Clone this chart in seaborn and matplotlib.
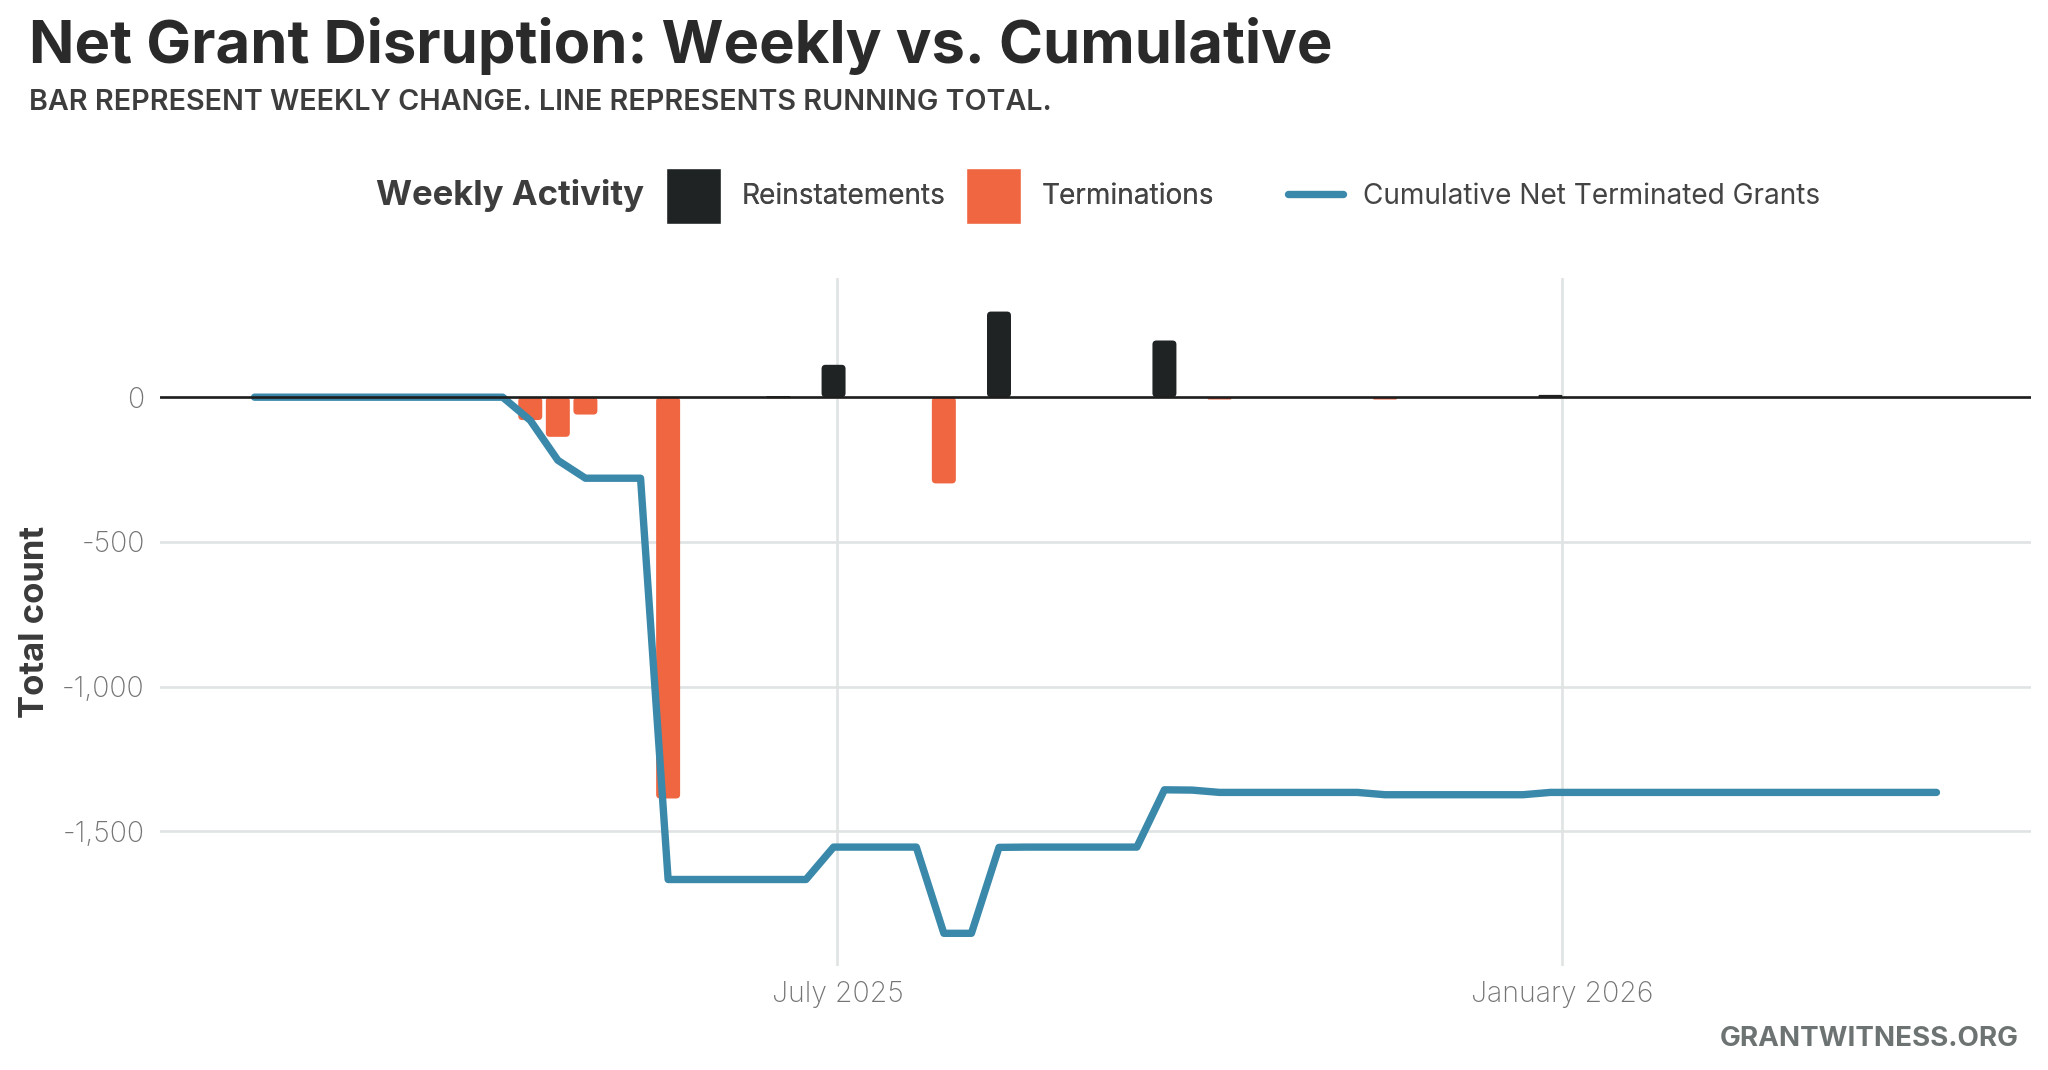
import pandas as pd
import seaborn as sns
import matplotlib.pyplot as plt
import matplotlib.dates as mdates
from matplotlib.patches import Patch, FancyBboxPatch
from matplotlib.lines import Line2D
from matplotlib.ticker import FuncFormatter

# weekly data (weeks starting Mon 2025-02-03 .. 2026-04-06)
week_start = pd.date_range('2025-02-03', '2026-04-06', freq='7D')

reinstatements = [0, 0, 0, 0, 0, 0, 0, 0, 0, 0,
                  0, 0, 0, 0, 0, 0, 0, 0, 0, 4,
                  0, 112, 0, 0, 0, 0, 0, 296, 0, 0,
                  0, 0, 0, 196, 0, 0, 0, 0, 0, 0,
                  0, 0, 0, 0, 0, 0, 0, 8, 0, 0,
                  0, 0, 0, 0, 0, 0, 0, 0, 0, 0,
                  0, 0]

terminations = [0, 0, 0, 0, 0, 0, 0, 0, 0, 0,
                79, 137, 60, 0, 0, 1387, 0, 0, 0, 4,
                0, 0, 0, 0, 0, 298, 0, 0, 0, 0,
                0, 0, 0, 0, 0, 8, 0, 0, 0, 0,
                0, 8, 0, 0, 0, 0, 0, 0, 0, 0,
                0, 0, 0, 0, 0, 0, 0, 0, 0, 0,
                0, 0]

cumulative = [0, 0, 0, 0, 0, 0, 0, 0, 0, 0,
              -80, -218, -280, -280, -280, -1667, -1667, -1667, -1667, -1667,
              -1667, -1555, -1555, -1555, -1555, -1853, -1853, -1556, -1555, -1555,
              -1555, -1555, -1555, -1357, -1358, -1366, -1366, -1366, -1366, -1366,
              -1366, -1374, -1374, -1374, -1374, -1374, -1374, -1366, -1366, -1366,
              -1366, -1366, -1366, -1366, -1366, -1366, -1366, -1366, -1366, -1366,
              -1366, -1366]

DARK = '#202324'
ORANGE = '#EF6641'
BLUE = '#3A88AA'
GRID = '#dfe3e3'

xnum = mdates.date2num(week_start)
bars = pd.DataFrame({
    'x': list(xnum) * 2,
    'value': reinstatements + [-t for t in terminations],
    'type': ['Reinstatements'] * len(xnum) + ['Terminations'] * len(xnum),
})

sns.set_style('white')
plt.rcParams['font.family'] = ['Inter', 'DejaVu Sans']

fig = plt.figure(figsize=(20.48, 10.70), dpi=100)
ax = fig.add_axes([160 / 2048, 1 - 966 / 1070, 1871 / 2048, 688 / 1070])

sns.barplot(data=bars, x='x', y='value', hue='type', native_scale=True,
            palette={'Reinstatements': DARK, 'Terminations': ORANGE},
            saturation=1, dodge=False, width=0.87, legend=False, ax=ax, zorder=2)
sns.lineplot(x=xnum, y=cumulative, color=BLUE, linewidth=5.3, ax=ax, zorder=3,
             solid_joinstyle='round', solid_capstyle='round')
ax.axhline(0, color='#1e1e1e', linewidth=1.9, zorder=4)

ax.set_xlim(mdates.date2num(pd.Timestamp('2025-01-10')),
            mdates.date2num(pd.Timestamp('2026-04-30')))
ax.set_ylim(-1966, 412)

# rounded bar corners
fig.canvas.draw()
p0 = ax.transData.transform((0, 0))
px_x = ax.transData.transform((1, 0))[0] - p0[0]
px_y = ax.transData.transform((0, 1))[1] - p0[1]
rad_px = 4
for rect in list(ax.patches):
    x0, y0 = rect.get_x(), rect.get_y()
    w, h = rect.get_width(), rect.get_height()
    fc = rect.get_facecolor()
    rect.remove()
    if h == 0:
        continue
    if h < 0:
        y0, h = y0 + h, -h
    aspect = px_x / px_y
    r = min(rad_px / px_x, w / 2, h / aspect / 2)
    ax.add_patch(FancyBboxPatch((x0, y0), w, h,
                                boxstyle=f'round,pad=0,rounding_size={r}',
                                mutation_aspect=aspect, facecolor=fc,
                                edgecolor='none', zorder=2))

ax.xaxis.set_major_locator(mdates.MonthLocator(bymonth=[1, 7]))
ax.xaxis.set_major_formatter(mdates.DateFormatter('%B %Y'))
ax.set_yticks([-1500, -1000, -500, 0])
ax.yaxis.set_major_formatter(FuncFormatter(lambda v, p: f'{int(v):,}'))
ax.grid(True, color=GRID, linewidth=1.9)
ax.set_axisbelow(True)
for s in ax.spines.values():
    s.set_visible(False)
ax.tick_params(length=0, labelsize=20.5, labelcolor='#747474', pad=11)
for lab in ax.get_xticklabels() + ax.get_yticklabels():
    lab.set_fontweight('light')
ax.set_xlabel('')
ax.set_ylabel('Total count', fontsize=25, fontweight='bold', color='#3a3a3a')
ax.yaxis.set_label_coords(-0.058, 0.5)

fig.text(29 / 2048, 1 - 63 / 1070, 'Net Grant Disruption: Weekly vs. Cumulative',
         fontsize=43, fontweight='bold', color='#2a2a2a', va='baseline')
fig.text(29 / 2048, 1 - 110 / 1070, 'BAR REPRESENT WEEKLY CHANGE. LINE REPRESENTS RUNNING TOTAL.',
         fontsize=20.7, fontweight='semibold', color='#3d3d3d', va='baseline')
fig.text(2019 / 2048, 1 - 1046 / 1070, 'GRANTWITNESS.ORG', fontsize=20,
         fontweight='bold', color='#6d7272', ha='right', va='baseline')

# legend
leg_y = 1 - 196 / 1070
fig.text(376 / 2048, leg_y, 'Weekly Activity', fontsize=25, fontweight='bold',
         color='#3d3d3d', va='center')
fill_leg = fig.legend(handles=[Patch(facecolor=DARK), Patch(facecolor=ORANGE)],
                      labels=['Reinstatements', 'Terminations'], ncol=2,
                      loc='center left', bbox_to_anchor=(666 / 2048, leg_y),
                      frameon=False, fontsize=20.2, labelcolor='#444444',
                      handlelength=1.96, handleheight=2.64, handletextpad=0.73,
                      columnspacing=0.73, borderpad=0, borderaxespad=0)
fig.add_artist(fill_leg)
fig.legend(handles=[Line2D([0], [0], color=BLUE, linewidth=5.3, solid_capstyle='round')],
           labels=['Cumulative Net Terminated Grants'],
           loc='center left', bbox_to_anchor=(1288 / 2048, leg_y),
           frameon=False, fontsize=20.2, labelcolor='#444444',
           handlelength=1.96, handletextpad=0.73, borderpad=0, borderaxespad=0)

fig.savefig('out.png', dpi=100)
